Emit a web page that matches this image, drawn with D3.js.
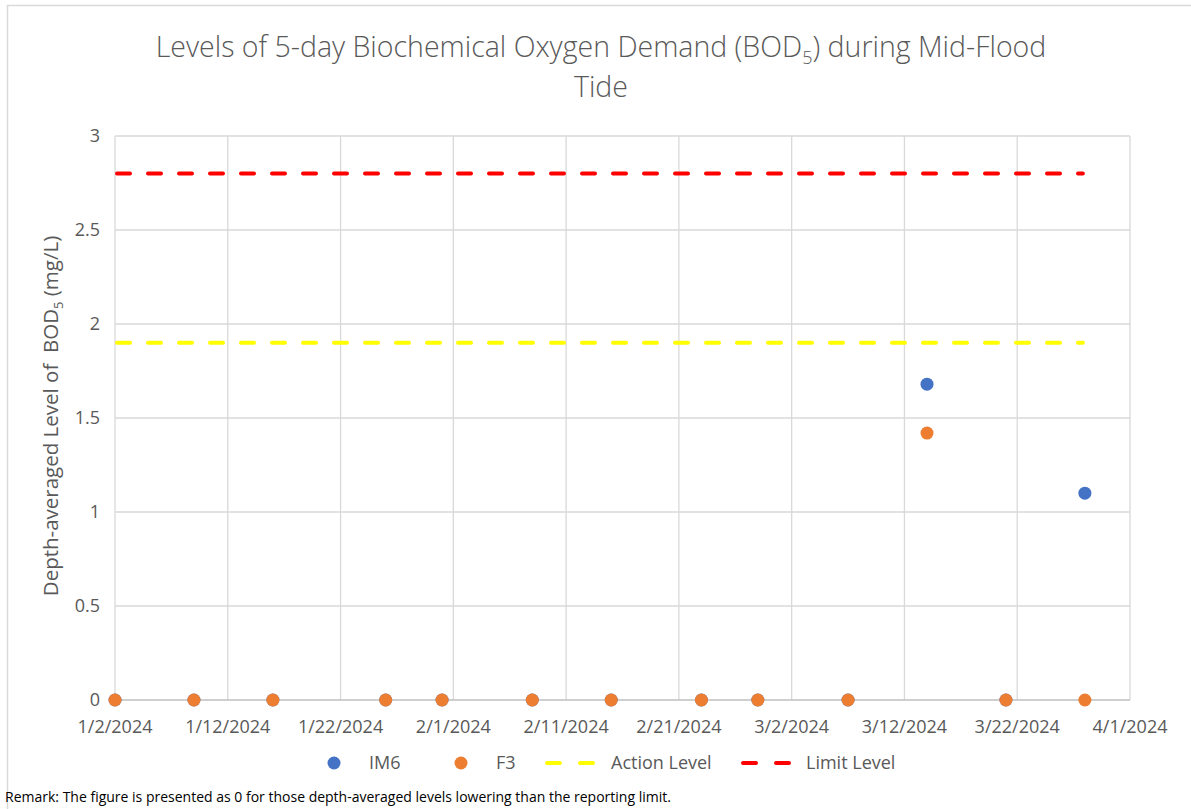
<!DOCTYPE html>
<html><head><meta charset="utf-8">
<script src="https://cdn.jsdelivr.net/npm/d3@7"></script>
<style>body{margin:0;background:#fff} text{font-family:"Open Sans",sans-serif}</style>
</head><body>
<svg id="c" width="1191" height="809"></svg>
<script>
// ---- data ----
const sampleDates = ["2024-01-02","2024-01-09","2024-01-16","2024-01-26","2024-01-31","2024-02-08","2024-02-15","2024-02-23","2024-02-28","2024-03-07","2024-03-14","2024-03-21","2024-03-28"];
const im6Values = [0,0,0,0,0,0,0,0,0,0,1.68,0,1.10];
const f3Values  = [0,0,0,0,0,0,0,0,0,0,1.42,0,0];
const actionLevel = 1.9;
const limitLevel = 2.8;
const xTickDates = ["2024-01-02","2024-01-12","2024-01-22","2024-02-01","2024-02-11","2024-02-21","2024-03-02","2024-03-12","2024-03-22","2024-04-01"];
const yTicks = [0,0.5,1,1.5,2,2.5,3];
const seriesNames = ["IM6","F3","Action Level","Limit Level"];

const parse = d3.utcParse("%Y-%m-%d");
const fmt = d => `${d.getUTCMonth()+1}/${d.getUTCDate()}/${d.getUTCFullYear()}`;
const grey = "#595959";

const svg = d3.select("#c");
// chart area border
svg.append("rect").attr("x",7.5).attr("y",5.5).attr("width",1300).attr("height",900)
  .attr("fill","none").attr("stroke","#d9d9d9").attr("stroke-width",1.5);

const m = {l:115, r:1130, t:136, b:700};
const x = d3.scaleUtc().domain([parse(xTickDates[0]), parse(xTickDates[xTickDates.length-1])]).range([m.l, m.r]);
const y = d3.scaleLinear().domain([0,3]).range([m.b, m.t]);

// gridlines
const g = svg.append("g");
g.selectAll(".hg").data(yTicks.filter(v=>v>0)).join("line")
  .attr("x1",m.l).attr("x2",m.r).attr("y1",d=>y(d)).attr("y2",d=>y(d))
  .attr("stroke","#d9d9d9").attr("stroke-width",1.3);
g.selectAll(".vg").data(xTickDates).join("line")
  .attr("x1",d=>x(parse(d))).attr("x2",d=>x(parse(d))).attr("y1",m.t).attr("y2",m.b)
  .attr("stroke","#d9d9d9").attr("stroke-width",1.3);
// x axis line
svg.append("line").attr("x1",m.l).attr("x2",m.r).attr("y1",y(0)).attr("y2",y(0))
  .attr("stroke","#bfbfbf").attr("stroke-width",1.3);

// y tick labels
svg.selectAll(".yl").data(yTicks).join("text")
  .attr("x",100).attr("y",d=>y(d)).attr("dy","0.35em").attr("text-anchor","end")
  .attr("fill",grey).attr("font-size",18).text(d=>d);
// x tick labels
svg.selectAll(".xl").data(xTickDates).join("text")
  .attr("x",d=>x(parse(d))).attr("y",727).attr("dy","0.35em").attr("text-anchor","middle")
  .attr("fill",grey).attr("font-size",18).text(d=>fmt(parse(d)));

// reference lines
const first = parse(sampleDates[0]), last = parse(sampleDates[sampleDates.length-1]);
const refLines = [{v:actionLevel,c:"#ffff00"},{v:limitLevel,c:"#ff0000"}];
svg.selectAll(".ref").data(refLines).join("line")
  .attr("x1",x(first)+2).attr("x2",x(last)-2).attr("y1",d=>y(d.v)).attr("y2",d=>y(d.v))
  .attr("stroke",d=>d.c).attr("stroke-width",4).attr("stroke-linecap","round")
  .attr("stroke-dasharray","13,18");

// points
const pts = (vals) => sampleDates.map((d,i)=>({d:parse(d),v:vals[i]}));
svg.selectAll(".im6").data(pts(im6Values)).join("circle")
  .attr("cx",d=>x(d.d)).attr("cy",d=>y(d.v)).attr("r",6.5).attr("fill","#4472c4");
svg.selectAll(".f3").data(pts(f3Values)).join("circle")
  .attr("cx",d=>x(d.d)).attr("cy",d=>y(d.v)).attr("r",6.5).attr("fill","#ed7d31");

// title
const title = svg.append("text").attr("x",601).attr("y",57).attr("text-anchor","middle")
  .attr("fill",grey).attr("font-size",28.5).attr("font-weight",300);
title.append("tspan").text("Levels of 5-day Biochemical Oxygen Demand (BOD");
title.append("tspan").attr("font-size",18).attr("dy",7).text("5");
title.append("tspan").attr("dy",-7).text(") during Mid-Flood");
svg.append("text").attr("x",601).attr("y",97).attr("text-anchor","middle")
  .attr("fill",grey).attr("font-size",28.5).attr("font-weight",300).text("Tide");

// y axis title
const yt = svg.append("text").attr("transform","translate(58,416) rotate(-90)")
  .attr("text-anchor","middle").attr("fill",grey).attr("font-size",20.5)
  .style("white-space","pre");
yt.append("tspan").text("Depth-averaged Level of  BOD");
yt.append("tspan").attr("font-size",13).attr("dy",5).text("5");
yt.append("tspan").attr("dy",-5).text(" (mg/L)");

// legend
const lg = svg.append("g");
const legendItems = [
  {name:seriesNames[0], type:"dot", c:"#4472c4", mx:334, tx:369},
  {name:seriesNames[1], type:"dot", c:"#ed7d31", mx:461, tx:496},
  {name:seriesNames[2], type:"line", c:"#ffff00", mx:545, tx:611},
  {name:seriesNames[3], type:"line", c:"#ff0000", mx:741, tx:806}
];
legendItems.forEach(it=>{
  if(it.type==="dot") lg.append("circle").attr("cx",it.mx).attr("cy",763).attr("r",6.5).attr("fill",it.c);
  else lg.append("line").attr("x1",it.mx+2).attr("x2",it.mx+48).attr("y1",763).attr("y2",763)
     .attr("stroke",it.c).attr("stroke-width",4).attr("stroke-linecap","round").attr("stroke-dasharray","13,20");
  lg.append("text").attr("x",it.tx).attr("y",763).attr("dy","0.35em").attr("fill",grey).attr("font-size",18).text(it.name);
});

// remark
svg.append("text").attr("x",5).attr("y",802).attr("fill","#000").attr("font-size",14)
  .text("Remark: The figure is presented as 0 for those depth-averaged levels lowering than the reporting limit.");
</script>
</body></html>
